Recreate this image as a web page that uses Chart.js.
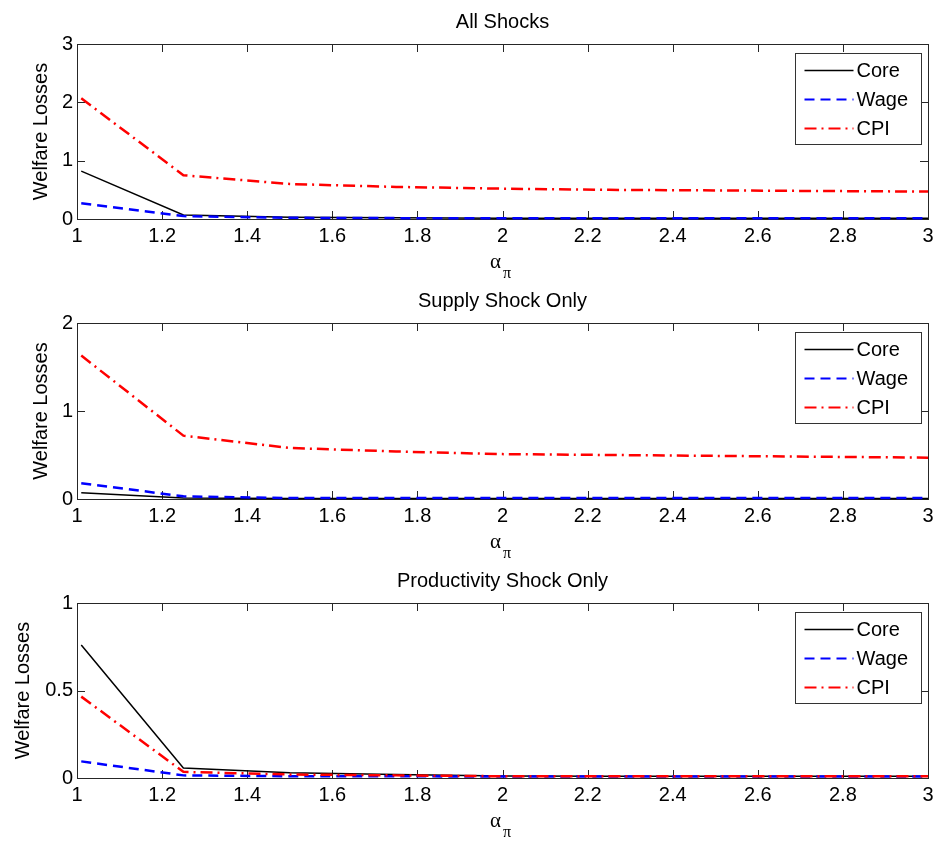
<!DOCTYPE html>
<html><head><meta charset="utf-8">
<script src="https://cdn.jsdelivr.net/npm/chart.js@4"></script>
<style>body{margin:0;background:#fff;width:939px;height:841px;position:relative;overflow:hidden} canvas{position:absolute;left:0;}</style>
</head><body>
<canvas id="c1" width="939" height="280" style="top:0px;width:939px;height:280px"></canvas>
<canvas id="c2" width="939" height="280" style="top:280px;width:939px;height:280px"></canvas>
<canvas id="c3" width="939" height="281" style="top:560px;width:939px;height:281px"></canvas>
<script>
// ---- data ----
const alphaPi = [1.01, 1.25, 1.5, 1.75, 2.0, 2.25, 2.5, 2.75, 3.0];
const xTicks = [1, 1.2, 1.4, 1.6, 1.8, 2, 2.2, 2.4, 2.6, 2.8, 3];
const seriesNames = ['Core', 'Wage', 'CPI'];
const panelTitles = ['All Shocks', 'Supply Shock Only', 'Productivity Shock Only'];

const coreAll = [0.82, 0.07, 0.03, 0.02, 0.015, 0.015, 0.015, 0.015, 0.015];
const wageAll = [0.27, 0.05, 0.02, 0.015, 0.015, 0.015, 0.015, 0.015, 0.015];
const cpiAll  = [2.07, 0.75, 0.60, 0.55, 0.52, 0.50, 0.49, 0.48, 0.47];
const yTicksAll = [0, 1, 2, 3];

const coreSupply = [0.07, 0.01, 0.005, 0.005, 0.005, 0.005, 0.005, 0.005, 0.005];
const wageSupply = [0.18, 0.03, 0.01, 0.01, 0.01, 0.01, 0.01, 0.01, 0.01];
const cpiSupply  = [1.63, 0.72, 0.58, 0.54, 0.51, 0.50, 0.49, 0.48, 0.47];
const yTicksSupply = [0, 1, 2];

const coreProd = [0.76, 0.057, 0.03, 0.02, 0.012, 0.01, 0.01, 0.01, 0.01];
const wageProd = [0.095, 0.015, 0.01, 0.01, 0.008, 0.008, 0.008, 0.008, 0.008];
const cpiProd  = [0.465, 0.035, 0.02, 0.015, 0.01, 0.01, 0.01, 0.01, 0.01];
const yTicksProd = [0, 0.5, 1];

// ---- styling ----
const FONT = 'Liberation Sans, Arial, Helvetica, sans-serif';
const AXIS_COLOR = '#262626';

const decor = {
  id: 'decor',
  beforeDatasetsDraw(chart) {
    const {ctx, chartArea: a, scales: {x, y}} = chart;
    ctx.save();
    ctx.strokeStyle = AXIS_COLOR;
    ctx.lineWidth = 1;
    ctx.strokeRect(Math.round(a.left) + 0.5, Math.round(a.top) + 0.5, Math.round(a.right - a.left), Math.round(a.bottom - a.top));
    ctx.beginPath();
    const tl = 8;
    x.ticks.forEach(t => {
      const px = Math.round(x.getPixelForValue(t.value)) + 0.5;
      ctx.moveTo(px, a.bottom); ctx.lineTo(px, a.bottom - tl);
      ctx.moveTo(px, a.top); ctx.lineTo(px, a.top + tl);
    });
    y.ticks.forEach(t => {
      const py = Math.round(y.getPixelForValue(t.value)) + 0.5;
      ctx.moveTo(a.left, py); ctx.lineTo(a.left + tl, py);
      ctx.moveTo(a.right, py); ctx.lineTo(a.right - tl, py);
    });
    ctx.stroke();
    ctx.restore();
  },
  afterDatasetsDraw(chart, args, opts) {
    const {ctx, chartArea: a} = chart;
    ctx.save();
    // title
    ctx.fillStyle = '#000';
    ctx.font = '20px ' + FONT;
    ctx.textAlign = 'center';
    ctx.textBaseline = 'alphabetic';
    const cx = (a.left + a.right) / 2;
    ctx.fillText(opts.title, cx, a.top - 16);
    // x label alpha_pi
    ctx.textAlign = 'left';
    ctx.font = '21px Liberation Serif, Times New Roman, serif';
    ctx.fillText('\u03B1', cx - 12.5, a.bottom + 49);
    ctx.font = '16px Liberation Serif, Times New Roman, serif';
    ctx.fillText('\u03C0', cx + 0.5, a.bottom + 59);
    // legend
    const lw = 126, lh = 91;
    const lx = Math.round(a.right - 7 - lw) + 0.5, ly = Math.round(a.top + 9) + 0.5;
    ctx.fillStyle = '#fff';
    ctx.fillRect(lx, ly, lw, lh);
    ctx.strokeStyle = '#333';
    ctx.lineWidth = 1;
    ctx.strokeRect(lx, ly, lw, lh);
    const rows = [17, 46, 75];
    chart.data.datasets.forEach((ds, i) => {
      const yy = ly + rows[i];
      ctx.beginPath();
      ctx.strokeStyle = ds.borderColor;
      ctx.lineWidth = ds.legendWidth;
      ctx.setLineDash(ds.borderDash || []);
      ctx.moveTo(lx + 9, yy); ctx.lineTo(lx + 58, yy);
      ctx.stroke();
      ctx.setLineDash([]);
      ctx.fillStyle = '#000';
      ctx.font = '20px ' + FONT;
      ctx.textBaseline = 'middle';
      ctx.fillText(ds.label, lx + 61, yy + 1);
    });
    ctx.restore();
  }
};

function makeChart(id, title, core, wage, cpi, yTicks, padTop, xAxisH, yTitlePad) {
  const pts = arr => alphaPi.map((v, i) => ({x: v, y: arr[i]}));
  return new Chart(document.getElementById(id), {
    type: 'line',
    data: {
      datasets: [
        {label: seriesNames[0], data: pts(core), borderColor: '#000000', borderWidth: 1.5, legendWidth: 1.5, order: 2},
        {label: seriesNames[1], data: pts(wage), borderColor: '#0000ff', borderWidth: 2.5, legendWidth: 2, borderDash: [10, 6], order: 1},
        {label: seriesNames[2], data: pts(cpi), borderColor: '#ff0000', borderWidth: 2.5, legendWidth: 2, borderDash: [12, 5, 2, 5], order: 0}
      ].map(d => Object.assign(d, {pointRadius: 0, tension: 0, fill: false, clip: 4}))
    },
    options: {
      responsive: false,
      animation: false,
      events: [],
      layout: {padding: {top: padTop, right: 11, left: 0, bottom: 0}},
      plugins: {legend: {display: false}, tooltip: {enabled: false}, title: {display: false}, decor: {title}},
      scales: {
        x: {
          type: 'linear', min: 1, max: 3,
          afterBuildTicks: s => { s.ticks = xTicks.map(v => ({value: v})); },
          afterFit: s => { s.height = xAxisH; },
          grid: {display: false, drawTicks: false},
          border: {display: false},
          ticks: {font: {family: FONT, size: 20}, color: '#000', padding: 5, maxRotation: 0, autoSkip: false, callback: v => String(v)}
        },
        y: {
          type: 'linear', min: 0, max: yTicks[yTicks.length - 1],
          afterBuildTicks: s => { s.ticks = yTicks.map(v => ({value: v})); },
          afterFit: s => { s.width = 77; },
          grid: {display: false, drawTicks: false},
          border: {display: false},
          ticks: {font: {family: FONT, size: 20}, color: '#000', padding: 4, autoSkip: false, callback: v => String(v)},
          title: {display: true, text: 'Welfare Losses', color: '#000', font: {family: FONT, size: 20}, padding: {top: yTitlePad, bottom: 0}}
        }
      }
    },
    plugins: [decor]
  });
}

makeChart('c1', panelTitles[0], coreAll, wageAll, cpiAll, yTicksAll, 44, 61, 29);
makeChart('c2', panelTitles[1], coreSupply, wageSupply, cpiSupply, yTicksSupply, 43, 61, 29);
makeChart('c3', panelTitles[2], coreProd, wageProd, cpiProd, yTicksProd, 43, 63, 11);
</script>
</body></html>
